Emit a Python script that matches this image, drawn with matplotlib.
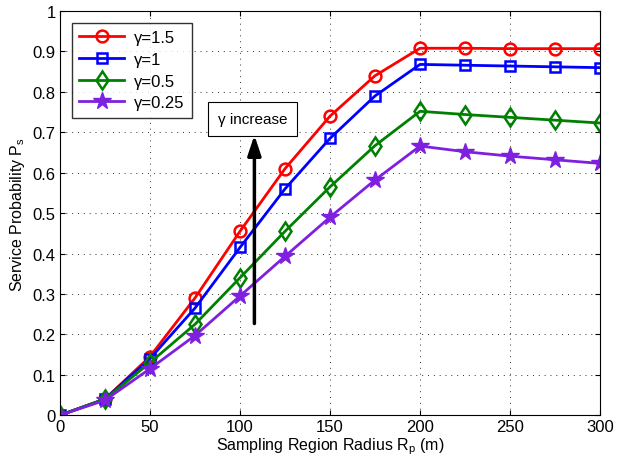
import numpy as np
import matplotlib
matplotlib.use("Agg")
import matplotlib.pyplot as plt

plt.rcParams['font.family'] = ['Liberation Sans', 'DejaVu Sans']

radius = [0, 25, 50, 75, 100, 125, 150, 175, 200, 225, 250, 275, 300]
ps_g15 = [0, 0.04, 0.145, 0.29, 0.455, 0.61, 0.74, 0.84, 0.908, 0.908, 0.907, 0.907, 0.907]
ps_g1 = [0, 0.04, 0.14, 0.265, 0.415, 0.56, 0.685, 0.79, 0.868, 0.866, 0.864, 0.862, 0.86]
ps_g05 = [0, 0.04, 0.13, 0.225, 0.34, 0.455, 0.565, 0.667, 0.752, 0.744, 0.737, 0.73, 0.723]
ps_g025 = [0, 0.037, 0.115, 0.197, 0.295, 0.393, 0.49, 0.582, 0.666, 0.652, 0.641, 0.632, 0.623]

fig = plt.figure(figsize=(6.18, 4.64), dpi=100)
ax = fig.add_axes([0.097, 0.103, 0.874, 0.871])

ax.plot(radius, ps_g15, color='#ff0000', lw=2, marker='o', ms=8.5, mfc='none', mew=1.8, label='γ=1.5')
ax.plot(radius, ps_g1, color='#0000ff', lw=2, marker='s', ms=7.5, mfc='none', mew=1.8, label='γ=1')
ax.plot(radius, ps_g05, color='#008000', lw=2, marker='d', ms=9.5, mfc='none', mew=1.8, label='γ=0.5')
ax.plot(radius, ps_g025, color='#7f1fdf', lw=2, marker='*', ms=13, mfc='#7f1fdf', mew=1, label='γ=0.25')

ax.set_xlim(0, 300)
ax.set_ylim(0, 1)
ax.set_xticks(np.arange(0, 301, 50))
ax.set_yticks(np.arange(0, 1.01, 0.1))
ax.set_yticklabels(['0', '0.1', '0.2', '0.3', '0.4', '0.5', '0.6', '0.7', '0.8', '0.9', '1'])
ax.grid(True, color='#333333', linestyle=(0, (1, 5)), linewidth=0.7)
ax.tick_params(direction='in', labelsize=12, top=True, right=True, pad=3)
for s in ax.spines.values():
    s.set_linewidth(0.8)

ax.set_xlabel('Sampling Region Radius R$_\\mathregular{p}$ (m)', fontsize=11.5, labelpad=1)
ax.set_ylabel('Service Probability P$_\\mathregular{s}$', fontsize=11.5)

ax.annotate('', xy=(108, 0.70), xytext=(108, 0.22),
            arrowprops=dict(arrowstyle='-|>,head_length=1.2,head_width=0.4', color='black', lw=2.5))
ax.text(107, 0.733, 'γ increase', fontsize=11, ha='center', va='center',
        bbox=dict(boxstyle='square,pad=0.65', fc='white', ec='black', lw=0.8))

leg = ax.legend(loc='upper left', fontsize=12, fancybox=False, edgecolor='black',
                handlelength=2.7, borderaxespad=0.7, labelspacing=0.4, borderpad=0.45,
                handletextpad=0.6)
leg.get_frame().set_linewidth(1.0)

fig.savefig('out.png', dpi=100)
